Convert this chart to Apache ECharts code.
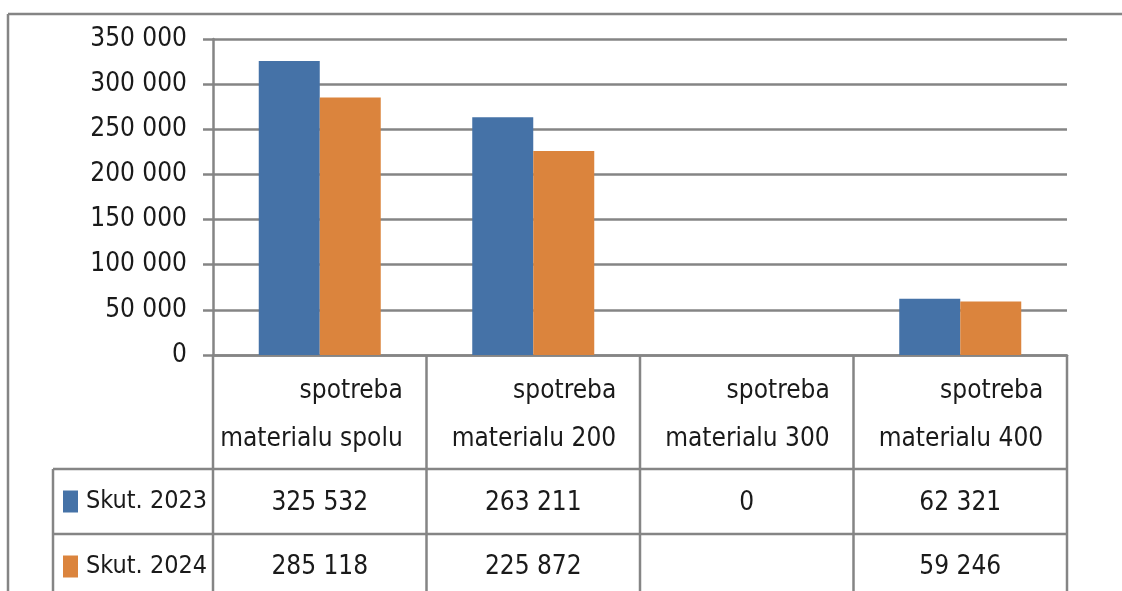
<!DOCTYPE html>
<html>
<head>
<meta charset="utf-8">
<script src="https://cdn.jsdelivr.net/npm/echarts@6/dist/echarts.min.js"></script>
<style>
html,body{margin:0;padding:0;background:#fff;}
#main{width:1122px;height:591px;}
</style>
</head>
<body>
<div id="main"></div>
<script>
// ---- data ----
const categories = ['spotreba\nmaterialu spolu', 'spotreba\nmaterialu 200', 'spotreba\nmaterialu 300', 'spotreba\nmaterialu 400'];
const seriesNames = ['Skut. 2023', 'Skut. 2024'];
const values2023 = [325532, 263211, 0, 62321];
const values2024 = [285118, 225872, null, 59246];
const yTicks = [0, 50000, 100000, 150000, 200000, 250000, 300000, 350000];

// ---- style / layout ----
const FONT = "'DejaVu Sans Condensed', 'Liberation Sans Narrow', sans-serif";
const FS = 26;
const TEXT = '#1a1a1a';
const LINE = '#858585';
const LW = 2.5;
const gridLeft = 213, gridRightEdge = 1067, gridTop = 39, gridBottomY = 355;
const tableRow1 = 469, tableRow2 = 534, tableLeft = 53;

function fmt(v) {
  if (v === null || v === undefined) return '';
  return String(v).replace(/\B(?=(\d{3})+(?!\d))/g, ' ');
}

const chart = echarts.init(document.getElementById('main'), null, {renderer: 'canvas'});

const cw = (gridRightEdge - gridLeft) / categories.length;
const graphics = [];
function hline(x1, x2, y) { graphics.push({type: 'line', shape: {x1, y1: y, x2, y2: y}, style: {stroke: LINE, lineWidth: LW}, silent: true}); }
function vline(x, y1, y2) { graphics.push({type: 'line', shape: {x1: x, y1, x2: x, y2}, style: {stroke: LINE, lineWidth: LW}, silent: true}); }
// outer frame
hline(8, 1122, 14);
vline(8, 14, 591);
// table
vline(gridLeft, gridBottomY, 591);
for (let i = 1; i <= categories.length; i++) vline(gridLeft + i * cw, gridBottomY, 591);
hline(tableLeft, gridRightEdge, tableRow1);
hline(tableLeft, gridRightEdge, tableRow2);
vline(tableLeft, tableRow1, 591);

const rowAxis = (vals, margin) => ({
  type: 'category', data: categories, gridIndex: 0, position: 'bottom',
  axisLine: {show: false}, axisTick: {show: false}, splitLine: {show: false},
  axisLabel: {
    interval: 0, margin: margin, fontFamily: FONT, fontSize: FS, color: TEXT, lineHeight: 30,
    formatter: (v, i) => fmt(vals[i])
  }
});

const legendFor = (name, top) => ({
  orient: 'vertical', left: 63, top: top, padding: 0, itemWidth: 15, itemHeight: 22,
  icon: 'rect', data: [name], selectedMode: false,
  textStyle: {fontFamily: FONT, fontSize: 25, color: TEXT, lineHeight: 22, padding: [0, 0, 0, 3]}
});

chart.setOption({
  animation: false,
  backgroundColor: '#fff',
  textStyle: {fontFamily: FONT},
  grid: {left: gridLeft, top: gridTop, width: gridRightEdge - gridLeft, height: gridBottomY - gridTop, containLabel: false},
  legend: [legendFor(seriesNames[0], 489), legendFor(seriesNames[1], 554)],
  xAxis: [
    {
      type: 'category', data: categories, gridIndex: 0,
      axisLine: {show: true, lineStyle: {color: LINE, width: LW}},
      axisTick: {show: false},
      axisLabel: {
        interval: 0, margin: 12,
        formatter: (v) => v.split('\n').map(s => '{h|' + s + '}').join('\n'),
        rich: {h: {width: 166, align: 'right', fontSize: FS, lineHeight: 48, fontFamily: FONT, color: TEXT}}
      }
    },
    rowAxis(values2023, 133),
    rowAxis(values2024, 197)
  ],
  yAxis: {
    type: 'value', min: 0, max: 350000, interval: 50000,
    axisLine: {show: true, lineStyle: {color: LINE, width: LW}},
    axisTick: {show: true, length: 10, lineStyle: {color: LINE, width: LW}},
    splitLine: {show: true, lineStyle: {color: LINE, width: LW}},
    axisLabel: {margin: 26, fontFamily: FONT, fontSize: FS, color: TEXT, formatter: (v) => fmt(v)}
  },
  series: [
    {name: seriesNames[0], type: 'bar', data: values2023, barWidth: 61, barGap: '0%', itemStyle: {color: '#4572A7'}},
    {name: seriesNames[1], type: 'bar', data: values2024, barWidth: 61, barGap: '0%', itemStyle: {color: '#DB843D'}}
  ],
  graphic: graphics
});
</script>
</body>
</html>
